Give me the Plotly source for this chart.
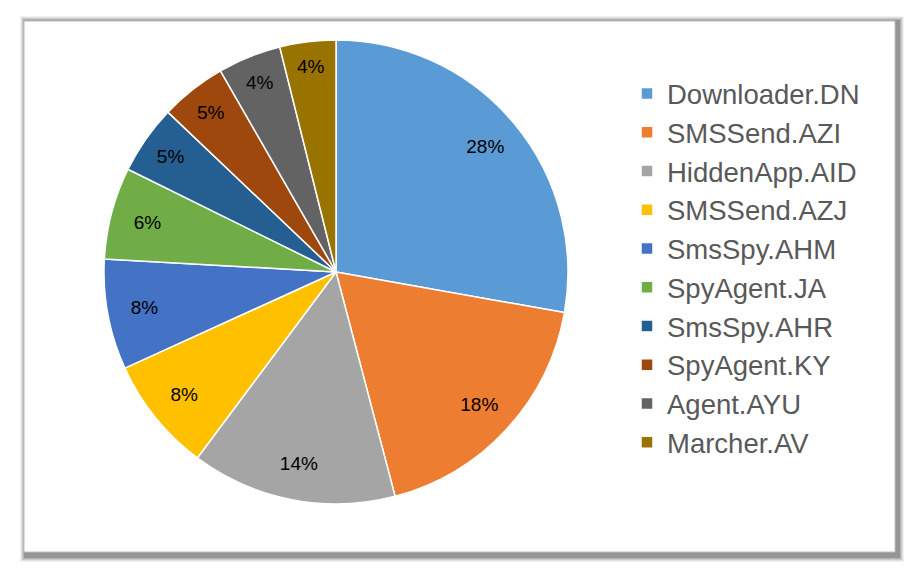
import plotly.graph_objects as go

# malware family share
families = ['Downloader.DN', 'SMSSend.AZI', 'HiddenApp.AID', 'SMSSend.AZJ', 'SmsSpy.AHM',
            'SpyAgent.JA', 'SmsSpy.AHR', 'SpyAgent.KY', 'Agent.AYU', 'Marcher.AV']
shares = [27.8, 18.1, 14.3, 8.0, 7.7, 6.4, 4.8, 4.6, 4.4, 3.9]
colours = ['#5B9BD5', '#ED7D31', '#A5A5A5', '#FFC000', '#4472C4',
           '#70AD47', '#255E91', '#9E480E', '#636363', '#997300']

# the page body adds an 8px margin, so work in shifted coordinates
OFF = 8
W, H = 919 - OFF, 574 - OFF


def px(x):
    return (x - OFF) / W


def py(y):
    return 1 - (y - OFF) / H


dom = dict(x=[px(104), px(568)], y=[py(504), py(40)])

fig = go.Figure()
fig.add_trace(go.Pie(
    labels=families,
    values=shares,
    sort=False,
    direction='clockwise',
    rotation=0,
    marker=dict(colors=colours, line=dict(color='white', width=1.5)),
    textinfo='none',
    domain=dom,
    hoverinfo='label+percent',
))
# transparent ring on top, only to carry the percent labels near the rim
fig.add_trace(go.Pie(
    labels=families,
    values=shares,
    sort=False,
    direction='clockwise',
    rotation=0,
    hole=0.68,
    marker=dict(colors=['rgba(0,0,0,0)'] * len(families), line=dict(width=0)),
    texttemplate='%{percent:.0%}',
    textposition='inside',
    insidetextorientation='horizontal',
    textfont=dict(family='Liberation Sans, Arial', size=19, color='black'),
    domain=dom,
    hoverinfo='skip',
    showlegend=False,
))

# chart frame with a soft shadow
shapes = []
for i, op in enumerate([0.05, 0.07, 0.09, 0.12, 0.16]):
    g = 6 - i
    shapes.append(dict(type='rect', xref='paper', yref='paper', layer='below',
                       x0=px(24 - g + 2), x1=px(895 + g + 3),
                       y0=py(552 + g + 4), y1=py(21 - g + 1),
                       fillcolor='rgba(0,0,0,%s)' % op, line=dict(width=0)))
shapes.append(dict(type='rect', xref='paper', yref='paper', layer='below',
                   x0=px(24), x1=px(895), y0=py(552), y1=py(21),
                   fillcolor='white', line=dict(color='#BFBFBF', width=1)))

fig.update_layout(
    width=W, height=H,
    margin=dict(l=0, r=0, t=0, b=0),
    paper_bgcolor='white',
    plot_bgcolor='white',
    shapes=shapes,
    showlegend=True,
    legend=dict(x=px(627), y=py(69), xanchor='left', yanchor='top',
                font=dict(family='Liberation Sans, Arial', size=27.5, color='#595959'),
                bgcolor='rgba(0,0,0,0)', itemwidth=30, tracegroupgap=0),
)

fig.write_html('out.html')
